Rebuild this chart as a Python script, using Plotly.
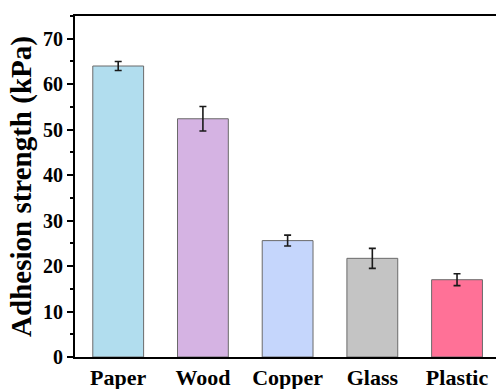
import plotly.graph_objects as go

materials = ["Paper", "Wood", "Copper", "Glass", "Plastic"]
strength = [64.0, 52.4, 25.6, 21.7, 17.0]
strength_err = [1.0, 2.7, 1.2, 2.2, 1.3]
bar_colors = ["#B1DDEE", "#D5B3E3", "#C5D6FC", "#C4C4C4", "#FF7197"]

font_family = "Liberation Serif"

fig = go.Figure(
    go.Bar(
        x=materials,
        y=strength,
        width=0.6,
        marker=dict(color=bar_colors, line=dict(color="#6a6a6a", width=1)),
        error_y=dict(type="data", array=strength_err, visible=True,
                     color="#1a1a1a", thickness=1.6, width=3.5),
    )
)

fig.update_layout(
    width=496,
    height=389,
    margin=dict(l=75, r=0, t=16, b=32),
    paper_bgcolor="white",
    plot_bgcolor="white",
    showlegend=False,
    font=dict(family=font_family, color="black"),
)

fig.update_xaxes(
    range=[-0.51, 4.46],
    showline=True,
    linecolor="black",
    linewidth=2,
    mirror=True,
    ticks="",
    showgrid=False,
    tickfont=dict(size=22, family=font_family, weight="bold"),
)

fig.update_yaxes(
    range=[0, 75],
    dtick=10,
    tick0=0,
    showline=True,
    linecolor="black",
    linewidth=2,
    ticks="outside",
    ticklen=6,
    tickwidth=1.5,
    tickcolor="black",
    minor=dict(dtick=5, ticks="outside", ticklen=3, tickwidth=1.5, tickcolor="black"),
    showgrid=False,
    zeroline=False,
    tickfont=dict(size=20, family=font_family, weight="bold"),
    title=dict(text="Adhesion strength (kPa)", standoff=3,
               font=dict(size=29, family=font_family, weight="bold")),
)

fig.write_html("out.html")
